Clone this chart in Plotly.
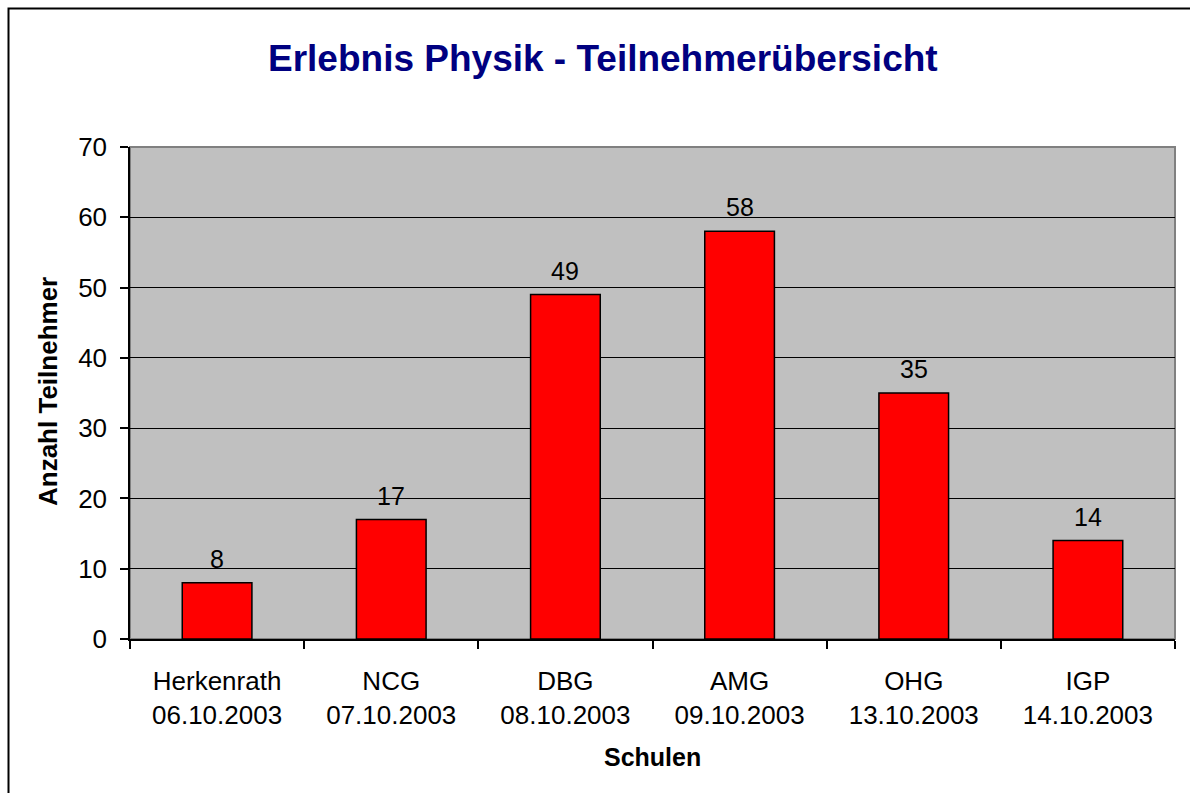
import plotly.graph_objects as go

schools = ["Herkenrath", "NCG", "DBG", "AMG", "OHG", "IGP"]
dates = ["06.10.2003", "07.10.2003", "08.10.2003", "09.10.2003", "13.10.2003", "14.10.2003"]
participants = [8, 17, 49, 58, 35, 14]
y_ticks = [0, 10, 20, 30, 40, 50, 60, 70]

categories = [f"{s}<br>{d}" for s, d in zip(schools, dates)]

W, H = 1190, 793
L, R, T, B = 130, 1175, 147, 639
pw, ph = R - L, B - T

def px(x):
    return (x - L) / pw

def py(y):
    return (B - y) / ph

FONT = "Liberation Sans, Arial, sans-serif"

fig = go.Figure()
fig.add_trace(go.Bar(
    x=categories, y=participants,
    marker=dict(color="#FF0000", line=dict(color="black", width=1.5)),
    width=0.4,
    hoverinfo="skip",
))

for c, v in zip(categories, participants):
    fig.add_annotation(x=c, y=v, text=str(v), showarrow=False, yanchor="bottom",
                       yshift=8, font=dict(family=FONT, size=25, color="black"))

fig.add_annotation(x=px(603), y=py(58), xref="paper", yref="paper", text="<b>Erlebnis Physik - Teilnehmerübersicht</b>",
                   showarrow=False, font=dict(family=FONT, size=37, color="#000080"),
                   xanchor="center", yanchor="middle")
fig.add_annotation(x=px(652), y=py(757), xref="paper", yref="paper", text="<b>Schulen</b>",
                   showarrow=False, font=dict(family=FONT, size=25, color="black"),
                   xanchor="center", yanchor="middle")
fig.add_annotation(x=px(48), y=py(392), xref="paper", yref="paper", text="<b>Anzahl Teilnehmer</b>",
                   showarrow=False, textangle=-90, font=dict(family=FONT, size=26, color="black"),
                   xanchor="center", yanchor="middle")

# plot-area gray frame
fig.add_shape(type="rect", xref="paper", yref="paper", x0=0, x1=1, y0=0, y1=1,
              line=dict(color="#808080", width=2), layer="below")
# outer chart border (left and top visible)
fig.add_shape(type="rect", xref="paper", yref="paper", x0=px(8.5), x1=px(1300), y0=py(900), y1=py(8.5),
              line=dict(color="black", width=2))

fig.update_layout(
    width=W, height=H,
    margin=dict(l=L, r=W - R, t=T, b=H - B, pad=0),
    paper_bgcolor="white", plot_bgcolor="#C0C0C0",
    showlegend=False,
    bargap=0.6,
    font=dict(family=FONT, size=26, color="black"),
)
fig.update_xaxes(
    showline=True, linecolor="black", linewidth=1.5,
    ticks="outside", tickson="boundaries", ticklen=8, tickcolor="black", tickwidth=1.5,
    tickfont=dict(family=FONT, size=26, color="black"), ticklabelstandoff=18,
    showgrid=False,
)
fig.update_yaxes(
    range=[0, 70], tickvals=y_ticks,
    showline=True, linecolor="black", linewidth=1.5,
    ticks="outside", ticklen=8, tickcolor="black", tickwidth=1.5,
    tickfont=dict(family=FONT, size=26, color="black"), ticklabelstandoff=8,
    showgrid=True, gridcolor="black", gridwidth=1, zeroline=False,
)

fig.write_html("out.html", config={"displayModeBar": False},
               post_script="document.body.style.margin='0';")
